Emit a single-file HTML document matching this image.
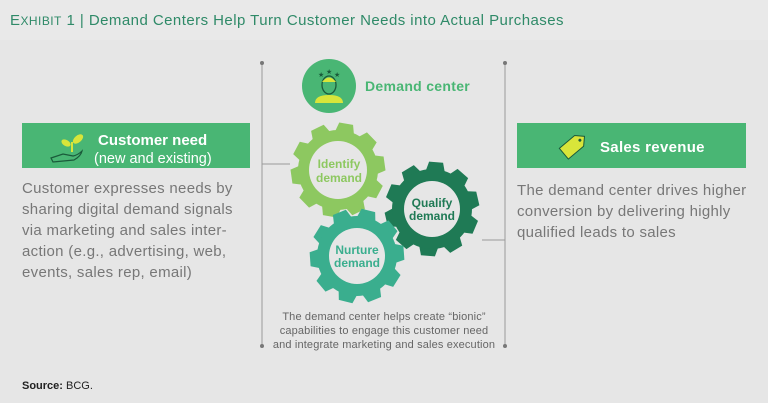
<!DOCTYPE html>
<html><head><meta charset="utf-8"><style>
html,body{margin:0;padding:0;background:#e6e6e6;}
svg{display:block;font-family:"Liberation Sans",sans-serif;}
</style></head><body>
<svg width="768" height="403" viewBox="0 0 768 403" xmlns="http://www.w3.org/2000/svg">
<defs>
<g id="teeth">
<path id="t" d="M-10 -36 L-7 -47 L7 -47 L10 -36Z"/>
<use href="#t" transform="rotate(36)"/>
<use href="#t" transform="rotate(72)"/>
<use href="#t" transform="rotate(108)"/>
<use href="#t" transform="rotate(144)"/>
<use href="#t" transform="rotate(180)"/>
<use href="#t" transform="rotate(216)"/>
<use href="#t" transform="rotate(252)"/>
<use href="#t" transform="rotate(288)"/>
<use href="#t" transform="rotate(324)"/>
<circle r="40"/>
</g>
</defs>
<rect width="768" height="40" fill="#e9e9e9"/>
<text x="10" y="25" font-size="15" fill="#2f8a68" letter-spacing="0.45">E<tspan font-size="12">XHIBIT</tspan> 1 | Demand Centers Help Turn Customer Needs into Actual Purchases</text>

<g stroke="#9a9a9a" stroke-width="1">
<line x1="262" y1="63" x2="262" y2="346"/>
<line x1="262" y1="164" x2="290" y2="164"/>
<line x1="505" y1="63" x2="505" y2="346"/>
<line x1="482" y1="240" x2="505" y2="240"/>
</g>
<g fill="#777"><circle cx="262" cy="63" r="2"/><circle cx="262" cy="346" r="2"/><circle cx="505" cy="63" r="2"/><circle cx="505" cy="346" r="2"/></g>

<rect x="22" y="123" width="228" height="45" fill="#49b674"/>
<path d="M51 158 l12 -4 l10 2 q5 -1 9 -5 q-1 5 -8 9 l-21 2z" fill="none" stroke="#1a5a3a" stroke-width="1.2"/>
<path d="M72 152 v-10" stroke="#d8e53a" stroke-width="2"/>
<ellipse cx="66" cy="143" rx="5" ry="3" fill="#d8e53a" transform="rotate(30 66 143)"/>
<ellipse cx="78" cy="139" rx="6" ry="3.5" fill="#d8e53a" transform="rotate(-40 78 139)"/>
<text x="98" y="145" font-size="15" font-weight="bold" fill="#fff">Customer need</text>
<text x="94" y="163" font-size="14.5" fill="#fff">(new and existing)</text>
<g font-size="15" fill="#777" letter-spacing="0.3">
<text x="22" y="193">Customer expresses needs by</text>
<text x="22" y="214">sharing digital demand signals</text>
<text x="22" y="235">via marketing and sales inter-</text>
<text x="22" y="256">action (e.g., advertising, web,</text>
<text x="22" y="277">events, sales rep, email)</text>
</g>

<rect x="517" y="123" width="229" height="45" fill="#49b674"/>
<g transform="rotate(-40 573 146)">
<path d="M561 139 h20 l7 7 l-7 7 h-20z" fill="#d8e53a" stroke="#1a5a3a" stroke-width="1"/>
<circle cx="582" cy="146" r="1.5" fill="#1a5a3a"/>
</g>
<text x="600" y="152" font-size="15" font-weight="bold" fill="#fff" letter-spacing="0.3">Sales revenue</text>
<g font-size="15" fill="#777" letter-spacing="0.3">
<text x="517" y="195">The demand center drives higher</text>
<text x="517" y="216">conversion by delivering highly</text>
<text x="517" y="237">qualified leads to sales</text>
</g>

<circle cx="329" cy="86" r="27" fill="#49b674"/>
<path d="M315 103 q0 -8 14 -8 q14 0 14 8z" fill="#d8e53a"/>
<ellipse cx="329" cy="85" rx="7" ry="9" fill="none" stroke="#1a5a3a" stroke-width="1.3"/>
<path d="M322 82 q7 -9 14 0" fill="#d8e53a"/>
<g fill="#1a5a3a" font-size="7"><text x="326" y="74">★</text><text x="318" y="77">★</text><text x="334" y="77">★</text></g>
<text x="365" y="91" font-size="14" font-weight="bold" fill="#49b674" letter-spacing="0.3">Demand center</text>

<g transform="translate(338,170) rotate(10)" fill="#8dc860"><use href="#teeth"/></g>
<circle cx="338" cy="170" r="29" fill="#e6e6e6"/>
<g transform="translate(432,209) rotate(5)" fill="#1f7a55"><use href="#teeth"/></g>
<circle cx="432" cy="209" r="28" fill="#e6e6e6"/>
<g transform="translate(357,256) rotate(14)" fill="#3aae8e"><use href="#teeth"/></g>
<circle cx="357" cy="256" r="28" fill="#e6e6e6"/>
<g font-size="12" font-weight="bold" text-anchor="middle">
<text x="339" y="168" fill="#8dc860">Identify</text>
<text x="339" y="182" fill="#8dc860">demand</text>
<text x="432" y="207" fill="#1f7a55">Qualify</text>
<text x="432" y="220" fill="#1f7a55">demand</text>
<text x="357" y="254" fill="#3aae8e">Nurture</text>
<text x="357" y="267" fill="#3aae8e">demand</text>
</g>

<g font-size="11" fill="#666" text-anchor="middle" letter-spacing="0.15">
<text x="384" y="320">The demand center helps create “bionic”</text>
<text x="384" y="334">capabilities to engage this customer need</text>
<text x="384" y="348">and integrate marketing and sales execution</text>
</g>

<text x="22" y="389" font-size="11" fill="#222"><tspan font-weight="bold">Source:</tspan> BCG.</text>
</svg>
</body></html>
